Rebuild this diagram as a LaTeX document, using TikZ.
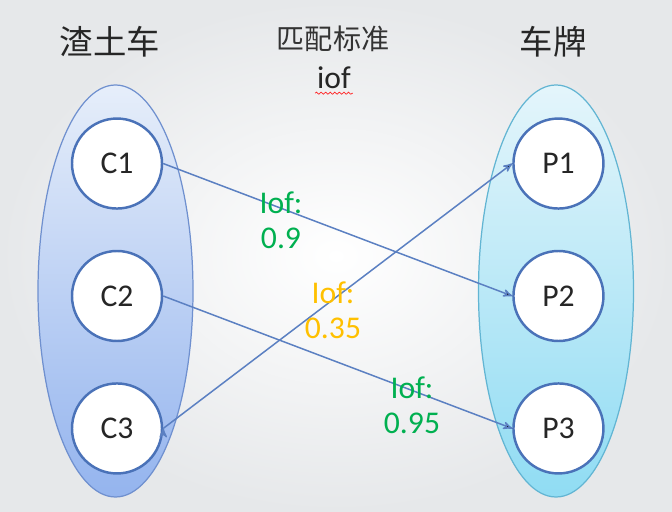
\documentclass[tikz,border=0pt]{standalone}
\usepackage{fontspec}
\setmainfont{Carlito}
\newfontfamily\cjk{Noto Sans CJK SC}
\usetikzlibrary{shapes.geometric,arrows,positioning,decorations.pathmorphing}
\definecolor{bggray}{HTML}{E6E8EA}
\definecolor{ringblue}{HTML}{4A72B8}
\definecolor{linkblue}{HTML}{5B80C2}
\definecolor{truckedge}{HTML}{6F90CF}
\definecolor{trucktop}{HTML}{E6EEFA}
\definecolor{truckbot}{HTML}{94B4EE}
\definecolor{plateedge}{HTML}{62B5D3}
\definecolor{platetop}{HTML}{E4F5FB}
\definecolor{platebot}{HTML}{90DCF3}
\definecolor{okgreen}{HTML}{00B050}
\definecolor{midorange}{HTML}{FFC000}

\begin{document}
\begin{tikzpicture}[->,>=stealth',node distance=0.8cm,
    item/.style={circle,draw=ringblue,line width=1.4pt,fill=white,minimum size=1.8cm,
                 text=black!85,font=\fontsize{18}{20}\selectfont},
    group/.style={ellipse,line width=0.7pt,minimum width=3.1cm,minimum height=8.24cm},
    iofval/.style={align=center,font=\fontsize{18}{20}\selectfont},
    link/.style={draw=linkblue,line width=0.85pt}]
  \useasboundingbox (0,0) rectangle (13.44,10.24);
  \fill[inner color=white,outer color=bggray] (0,0) rectangle (13.44,10.24);

  % the two sets
  \node[group,draw=truckedge,top color=trucktop,bottom color=truckbot] (trucks) at (2.31,4.42) {};
  \node[group,draw=plateedge,top color=platetop,bottom color=platebot] (plates) at (11.12,4.42) {};

  \node[text=black!85,font=\cjk\fontsize{19}{21}\selectfont] (ttrucks) at (2.2,9.4) {渣土车};
  \node[text=black!85,font=\cjk\fontsize{19}{21}\selectfont] (tplates) at (11.06,9.4) {车牌};
  \node[text=black!80,font=\cjk\fontsize{16}{18}\selectfont] (tmatch) at (6.66,9.46) {匹配标准};
  \node[text=black!85,font=\fontsize{18}{20}\selectfont,inner sep=1pt] (tiof) at (6.68,8.68) {iof};
  \draw[-,red!85,line width=0.4pt,decorate,decoration={snake,amplitude=0.6pt,segment length=2.6pt}]
    ([yshift=-1.2pt]tiof.south west) -- ([yshift=-1.2pt]tiof.south east);

  % trucks
  \node[item] (C2) at (2.34,4.32) {C2};
  \node[item] (C1) [above=of C2] {C1};
  \node[item] (C3) [below=of C2] {C3};

  % plates
  \node[item] (P2) [right=6.98cm of C2] {P2};
  \node[item] (P1) [above=of P2] {P1};
  \node[item] (P3) [below=of P2] {P3};

  \path[link]
    (C1.east) edge (P2.west)
    (C2.east) edge (P3.west)
    (C3.east) edge (P1.west);

  \node[iofval,text=okgreen] (iof12) at (5.62,5.84) {Iof:\\0.9};
  \node[iofval,text=midorange] (iof31) at (6.66,4.04) {Iof:\\0.35};
  \node[iofval,text=okgreen] (iof23) at (8.24,2.14) {Iof:\\0.95};
\end{tikzpicture}
\end{document}
